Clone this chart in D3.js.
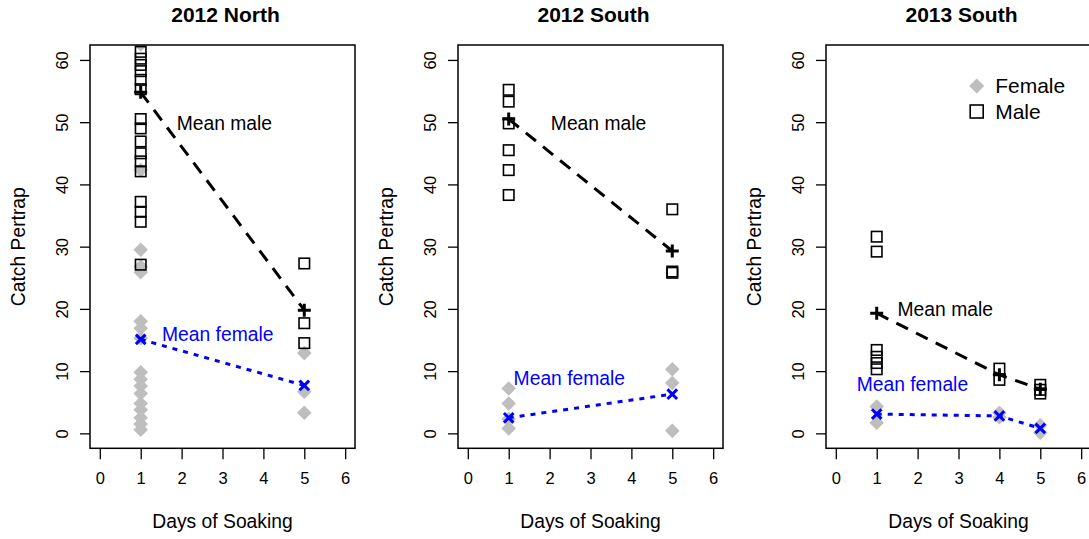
<!DOCTYPE html>
<html><head><meta charset="utf-8">
<script src="https://cdn.jsdelivr.net/npm/d3@7"></script>
<style>body{margin:0;background:#fff}svg{display:block}text{font-family:"Liberation Sans",Arial,sans-serif}</style>
</head><body><svg id="c" width="1089" height="539"></svg>
<script>
// ---- data ----
const panelTitles = ["2012 North", "2012 South", "2013 South"];
const xTicks = [0, 1, 2, 3, 4, 5, 6];
const yTicks = [0, 10, 20, 30, 40, 50, 60];

// [day, catch]
const north12Female = [[1,62.5],[1,42.3],[1,29.5],[1,26.8],[1,25.9],[1,18.0],[1,16.9],[1,15.3],[1,9.8],[1,8.7],[1,7.6],[1,6.4],[1,4.8],[1,3.8],[1,2.5],[1,1.5],[1,0.6],[5,12.9],[5,6.7],[5,3.3]];
const north12Male = [[1,61.3],[1,60.2],[1,59.2],[1,58.2],[1,56.8],[1,55.3],[1,50.5],[1,49.0],[1,46.9],[1,45.0],[1,43.7],[1,42.1],[1,37.2],[1,35.6],[1,34.0],[1,27.1],[5,27.3],[5,17.7],[5,14.5]];
const south12Female = [[1,7.2],[1,4.8],[1,2.3],[1,0.8],[5,10.3],[5,8.1],[5,0.4]];
const south12Male = [[1,55.2],[1,53.3],[1,49.8],[1,45.5],[1,42.3],[1,38.3],[5,36.0],[5,26.0],[5,25.8]];
const south13Female = [[1,4.3],[1,1.7],[4,3.3],[4,2.6],[5,1.3],[5,0.1]];
const south13Male = [[1,31.6],[1,29.2],[1,13.4],[1,12.3],[1,11.3],[1,10.3],[4,10.4],[4,8.6],[5,7.8],[5,7.0],[5,6.4]];

const north12MeanMale = [[1,54.8],[5,19.8]];
const north12MeanFemale = [[1,15.1],[5,7.7]];
const south12MeanMale = [[1,50.5],[5,29.3]];
const south12MeanFemale = [[1,2.5],[5,6.3]];
const south13MeanMale = [[1,19.3],[4,9.4],[5,7.1]];
const south13MeanFemale = [[1,3.1],[4,2.8],[5,0.8]];

const panelData = [
  {female: north12Female, male: north12Male, mMale: north12MeanMale, mFemale: north12MeanFemale,
   maleLab: [1.88, 49.9], femaleLab: [1.52, 15.9]},
  {female: south12Female, male: south12Male, mMale: south12MeanMale, mFemale: south12MeanFemale,
   maleLab: [2.03, 49.9], femaleLab: [1.12, 8.9]},
  {female: south13Female, male: south13Male, mMale: south13MeanMale, mFemale: south13MeanFemale,
   maleLab: [1.51, 20.0], femaleLab: [0.51, 7.9]}
];
const legendLabels = ["Female", "Male"];

// ---- drawing ----
const svg = d3.select("#c");
const lefts = [90, 458, 826];
const W = 265, boxTop = 45, boxBottom = 448.3;
const GREY = "#bebebe", BLUE = "#0000ff";
const FS = 19.3;

panelData.forEach((pd, i) => {
  const L = lefts[i];
  const x = d3.scaleLinear().domain([-0.24, 6.24]).range([L, L + W]);
  const y = d3.scaleLinear().domain([-2.4, 62.4]).range([boxBottom, boxTop]);
  const g = svg.append("g");
  const clipId = "clip" + i;
  g.append("clipPath").attr("id", clipId).append("rect")
    .attr("x", L).attr("y", boxTop).attr("width", W).attr("height", boxBottom - boxTop);
  const pg = g.append("g").attr("clip-path", `url(#${clipId})`);

  // female diamonds
  const ds = 7.3;
  pg.selectAll("path.f").data(pd.female).join("path")
    .attr("d", d => `M${x(d[0])},${y(d[1]) - ds}L${x(d[0]) + ds},${y(d[1])}L${x(d[0])},${y(d[1]) + ds}L${x(d[0]) - ds},${y(d[1])}Z`)
    .attr("fill", GREY);
  // male squares
  const ss = 10.5;
  pg.selectAll("rect.m").data(pd.male).join("rect")
    .attr("x", d => x(d[0]) - ss / 2).attr("y", d => y(d[1]) - ss / 2)
    .attr("width", ss).attr("height", ss)
    .attr("fill", "none").attr("stroke", "#000").attr("stroke-width", 1.6);

  const line = d3.line().x(d => x(d[0])).y(d => y(d[1]));
  pg.append("path").datum(pd.mMale).attr("d", line)
    .attr("fill", "none").attr("stroke", "#000").attr("stroke-width", 3)
    .attr("stroke-dasharray", "13,9");
  pg.append("path").datum(pd.mFemale).attr("d", line)
    .attr("fill", "none").attr("stroke", BLUE).attr("stroke-width", 3)
    .attr("stroke-dasharray", "5,6");

  // plus markers
  const ps = 6.5;
  pg.selectAll("path.p").data(pd.mMale).join("path")
    .attr("d", d => `M${x(d[0]) - ps},${y(d[1])}H${x(d[0]) + ps}M${x(d[0])},${y(d[1]) - ps}V${y(d[1]) + ps}`)
    .attr("stroke", "#000").attr("stroke-width", 3);
  // x markers
  const xs = 4.8;
  pg.selectAll("path.x").data(pd.mFemale).join("path")
    .attr("d", d => `M${x(d[0]) - xs},${y(d[1]) - xs}L${x(d[0]) + xs},${y(d[1]) + xs}M${x(d[0]) - xs},${y(d[1]) + xs}L${x(d[0]) + xs},${y(d[1]) - xs}`)
    .attr("stroke", BLUE).attr("stroke-width", 3);

  // annotations
  g.append("text").attr("x", x(pd.maleLab[0])).attr("y", y(pd.maleLab[1])).attr("dy", "0.35em")
    .attr("font-size", FS).attr("fill", "#000").text("Mean male");
  g.append("text").attr("x", x(pd.femaleLab[0])).attr("y", y(pd.femaleLab[1])).attr("dy", "0.35em")
    .attr("font-size", FS).attr("fill", BLUE).text("Mean female");

  // box
  g.append("rect").attr("x", L).attr("y", boxTop).attr("width", W).attr("height", boxBottom - boxTop)
    .attr("fill", "none").attr("stroke", "#000").attr("stroke-width", 1.5);

  // x axis
  const xa = g.append("g").attr("transform", `translate(0,${boxBottom})`)
    .call(d3.axisBottom(x).tickValues(xTicks).tickSize(11).tickPadding(13).tickFormat(d3.format("d")));
  xa.select(".domain").remove();
  xa.selectAll("line").attr("stroke-width", 1.3);
  xa.selectAll("text").attr("font-size", 16.5).attr("font-family", '"Liberation Sans",Arial,sans-serif');
  // y axis
  const ya = g.append("g").attr("transform", `translate(${L},0)`)
    .call(d3.axisLeft(y).tickValues(yTicks).tickSize(10).tickFormat(d3.format("d")));
  ya.select(".domain").remove();
  ya.selectAll("line").attr("stroke-width", 1.3);
  ya.selectAll("text").attr("font-size", 16.5).attr("font-family", '"Liberation Sans",Arial,sans-serif')
    .attr("x", null).attr("text-anchor", "middle")
    .attr("transform", "translate(-28,0) rotate(-90)")
    .attr("dy", "0.35em");

  // titles
  g.append("text").attr("x", L + W / 2 + 3).attr("y", 15).attr("dy", "0.35em").attr("text-anchor", "middle")
    .attr("font-size", 21).attr("font-weight", "bold").text(panelTitles[i]);
  g.append("text").attr("x", L + W / 2).attr("y", 521).attr("dy", "0.35em").attr("text-anchor", "middle")
    .attr("font-size", FS).text("Days of Soaking");
  g.append("text").attr("transform", `translate(${L - 72},${(boxTop + boxBottom) / 2}) rotate(-90)`)
    .attr("dy", "0.35em").attr("text-anchor", "middle").attr("font-size", FS).text("Catch Pertrap");

  if (i === 2) {
    const lg = g.append("g");
    const lx = 976.7, ly = [86, 111.5];
    lg.append("path").attr("d", `M${lx},${ly[0] - 7.5}L${lx + 7.5},${ly[0]}L${lx},${ly[0] + 7.5}L${lx - 7.5},${ly[0]}Z`).attr("fill", GREY);
    lg.append("rect").attr("x", lx - 6.5).attr("y", ly[1] - 6.5).attr("width", 13).attr("height", 13)
      .attr("fill", "none").attr("stroke", "#000").attr("stroke-width", 1.6);
    lg.selectAll("text").data(legendLabels).join("text")
      .attr("x", lx + 18.5).attr("y", (d, j) => ly[j]).attr("dy", "0.35em").attr("font-size", 21).text(d => d);
  }
});
</script></body></html>
